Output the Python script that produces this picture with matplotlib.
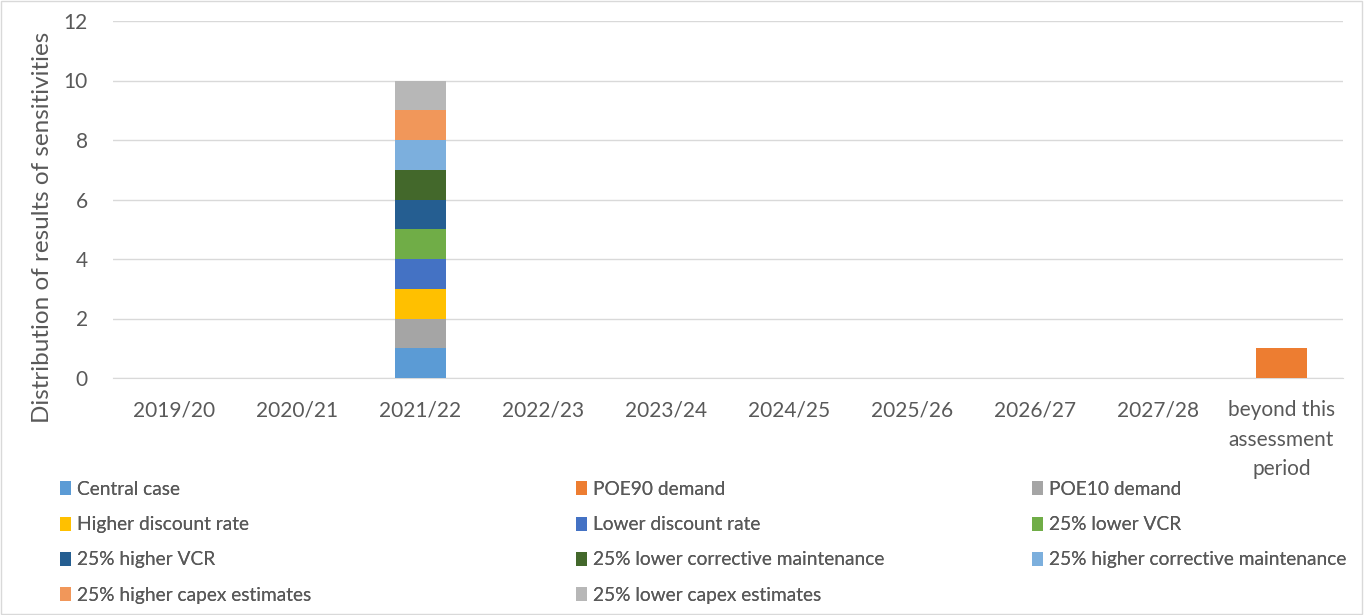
import matplotlib
matplotlib.use("Agg")
import matplotlib.pyplot as plt
from matplotlib.patches import Rectangle
import numpy as np

categories = ["2019/20", "2020/21", "2021/22", "2022/23", "2023/24", "2024/25",
              "2025/26", "2026/27", "2027/28", "beyond this\nassessment\nperiod"]

series_names = ["Central case", "POE90 demand", "POE10 demand", "Higher discount rate",
                "Lower discount rate", "25% lower VCR", "25% higher VCR",
                "25% lower corrective maintenance", "25% higher corrective maintenance",
                "25% higher capex estimates", "25% lower capex estimates"]

# valores por série (um valor por categoria)
central_case      = [0, 0, 1, 0, 0, 0, 0, 0, 0, 0]
poe90_demand      = [0, 0, 0, 0, 0, 0, 0, 0, 0, 1]
poe10_demand      = [0, 0, 1, 0, 0, 0, 0, 0, 0, 0]
higher_discount   = [0, 0, 1, 0, 0, 0, 0, 0, 0, 0]
lower_discount    = [0, 0, 1, 0, 0, 0, 0, 0, 0, 0]
lower_vcr         = [0, 0, 1, 0, 0, 0, 0, 0, 0, 0]
higher_vcr        = [0, 0, 1, 0, 0, 0, 0, 0, 0, 0]
lower_corrective  = [0, 0, 1, 0, 0, 0, 0, 0, 0, 0]
higher_corrective = [0, 0, 1, 0, 0, 0, 0, 0, 0, 0]
higher_capex      = [0, 0, 1, 0, 0, 0, 0, 0, 0, 0]
lower_capex       = [0, 0, 1, 0, 0, 0, 0, 0, 0, 0]

series_values = [central_case, poe90_demand, poe10_demand, higher_discount,
                 lower_discount, lower_vcr, higher_vcr, lower_corrective,
                 higher_corrective, higher_capex, lower_capex]

colors = ["#5B9BD5", "#ED7D31", "#A5A5A5", "#FFC000", "#4472C4", "#70AD47",
          "#255E91", "#43682B", "#7CAFDD", "#F1975A", "#B7B7B7"]

TEXT = "#595959"
plt.rcParams["font.family"] = ["Lato", "DejaVu Sans"]

fig = plt.figure(figsize=(13.7, 6.15), dpi=100)
ax = fig.add_axes([113 / 1370, 1 - 378 / 615, 1230 / 1370, 357 / 615])

x = np.arange(len(categories))
bottom = np.zeros(len(categories))
handles = []
for name, vals, col in zip(series_names, series_values, colors):
    vals = np.array(vals, dtype=float)
    b = ax.bar(x, vals, width=0.41, bottom=bottom, color=col, label=name, zorder=3)
    handles.append(b)
    bottom += vals

ax.set_xlim(-0.5, len(categories) - 0.5)
ax.set_ylim(0, 12)
ax.set_yticks(range(0, 13, 2))
ax.set_xticks(x)
ax.set_xticklabels(categories, fontsize=15, color=TEXT, linespacing=1.6)
ax.tick_params(axis="y", labelsize=15, labelcolor=TEXT, length=0, pad=18)
ax.tick_params(axis="x", length=0, pad=16)
ax.grid(axis="y", color="#D9D9D9", linewidth=1, zorder=0)
for s in ["top", "right", "left"]:
    ax.spines[s].set_visible(False)
ax.spines["bottom"].set_color("#D9D9D9")
ax.set_ylabel("Distribution of results of sensitivities", fontsize=17.5, color=TEXT)
ax.yaxis.set_label_coords(-0.049, 0.423)

# legenda em 3 colunas, preenchida por linha como no Excel
col_x = [60 / 1370, 576 / 1370, 1032 / 1370]
for c in range(3):
    idx = list(range(c, len(series_names), 3))
    leg = fig.legend([handles[i] for i in idx], [series_names[i] for i in idx],
                     loc="upper left", bbox_to_anchor=(col_x[c], 1 - 481 / 615),
                     frameon=False, fontsize=13.8, labelcolor=TEXT,
                     handlelength=0.55, handleheight=0.75, handletextpad=0.35,
                     labelspacing=0.95, borderpad=0, borderaxespad=0)
    fig.add_artist(leg)

fig.add_artist(Rectangle((1 / 1370, 1 / 615), 1361 / 1370, 1 - 2 / 615,
                         transform=fig.transFigure, fill=False,
                         edgecolor="#D9D9D9", linewidth=1))

fig.savefig("out.png", dpi=100)
